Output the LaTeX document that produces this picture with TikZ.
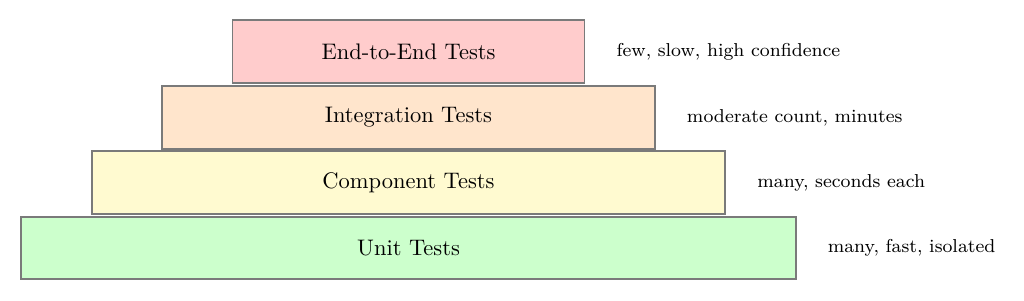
\documentclass[tikz,border=0pt]{standalone}
\usetikzlibrary{positioning}
\definecolor{compfill}{HTML}{FFFAD0}
\begin{document}
\begin{tikzpicture}[
  layer/.style={draw=black!52, thick, minimum height=0.98cm, inner sep=0pt, font=\normalsize},
  note/.style={anchor=west, inner sep=0pt, font=\fontsize{8.3}{10}\selectfont, xshift=0.48cm}
]
\useasboundingbox (0,0) rectangle (16,-4.703);
\node[layer, fill=red!20, minimum width=5.5cm] (e2e) at (6.383,-0.805) {End-to-End Tests};
\node[layer, fill=orange!20, minimum width=7.7cm] (int) at (6.383,-1.836) {Integration Tests};
\node[layer, fill=compfill, minimum width=9.9cm] (comp) at (6.383,-2.852) {Component Tests};
\node[layer, fill=green!20, minimum width=12.1cm] (unit) at (6.383,-3.875) {Unit Tests};
\node[note] (n1) at (e2e.east) {few, slow, high confidence};
\node[note] (n2) at (int.east) {moderate count, minutes};
\node[note] (n3) at (comp.east) {many, seconds each};
\node[note] (n4) at (unit.east) {many, fast, isolated};
\end{tikzpicture}
\end{document}
